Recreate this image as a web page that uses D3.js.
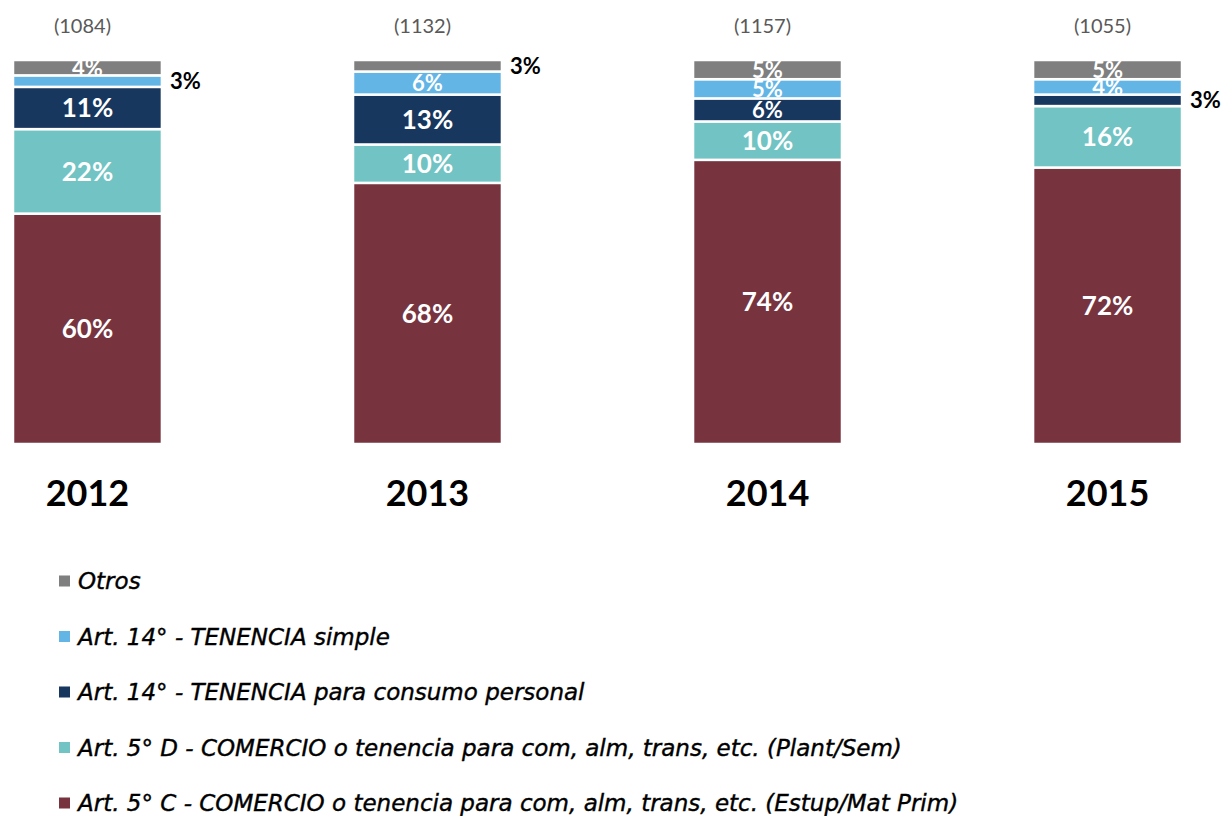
<!DOCTYPE html>
<html>
<head>
<meta charset="utf-8">
<script src="https://cdn.jsdelivr.net/npm/d3@7"></script>
<style>
body { margin: 0; background: #fff; }
</style>
</head>
<body>
<svg class="chart"></svg>
<script>
// Data
var years = ["2012", "2013", "2014", "2015"];
var counts = ["(1084)", "(1132)", "(1157)", "(1055)"];
var seriesNames = [
    "Art. 5° C - COMERCIO o tenencia para com, alm, trans, etc. (Estup/Mat Prim)",
    "Art. 5° D - COMERCIO o tenencia para com, alm, trans, etc. (Plant/Sem)",
    "Art. 14° - TENENCIA para consumo personal",
    "Art. 14° - TENENCIA simple",
    "Otros"
];
var comercioC = [60, 68, 74, 72];
var comercioD = [22, 10, 10, 16];
var tenenciaConsumo = [11, 13, 6, 3];
var tenenciaSimple = [3, 6, 5, 4];
var otros = [4, 3, 5, 5];
var colors = ["#77343f", "#71c4c3", "#17375e", "#63b5e6", "#7f7f7f"];

var seriesValues = [comercioC, comercioD, tenenciaConsumo, tenenciaSimple, otros];
var rows = years.map(function (y, i) {
    var r = { year: y };
    seriesNames.forEach(function (s, j) { r[s] = seriesValues[j][i]; });
    return r;
});

var width = 1227, height = 816;
var svg = d3.select(".chart").attr("width", width).attr("height", height);

var x = d3.scaleBand()
    .domain(years)
    .range([13, 1182])
    .paddingInner(0.562)
    .paddingOuter(0);

var y = d3.scaleLinear()
    .domain([0, 100])
    .range([444, 60]);

var color = d3.scaleOrdinal().domain(seriesNames).range(colors);

var stack = d3.stack().keys(seriesNames);
var layers = stack(rows);

// Bars
var layer = svg.selectAll(".layer")
    .data(layers)
    .enter().append("g")
    .attr("class", "layer")
    .attr("fill", function (d) { return color(d.key); });

layer.selectAll("rect")
    .data(function (d) { return d; })
    .enter().append("rect")
    .attr("x", function (d) { return x(d.data.year); })
    .attr("y", function (d) { return y(d[1]); })
    .attr("width", x.bandwidth())
    .attr("height", function (d) { return y(d[0]) - y(d[1]); })
    .attr("stroke", "#fff")
    .attr("stroke-width", 2.5);

// Segment labels (3% ones go outside, to the right)
layers.forEach(function (l) {
    l.forEach(function (d) {
        var v = d[1] - d[0];
        var cy = (y(d[0]) + y(d[1])) / 2;
        var t = svg.append("text")
            .attr("y", cy)
            .attr("dy", "0.36em")
            .attr("font-family", "Lato, 'Open Sans', sans-serif")
            .attr("font-weight", "bold")
            .text(v + "%");
        if (v <= 3) {
            t.attr("x", x(d.data.year) + x.bandwidth() + 8)
                .attr("font-size", 22)
                .attr("fill", "#000");
        } else {
            t.attr("x", x(d.data.year) + x.bandwidth() / 2)
                .attr("text-anchor", "middle")
                .attr("font-size", v <= 6 ? 22 : 26)
                .attr("fill", "#fff");
        }
    });
});

// Count labels
svg.selectAll(".count")
    .data(years)
    .enter().append("text")
    .attr("class", "count")
    .attr("x", function (d) { return x(d) + x.bandwidth() / 2 - 5; })
    .attr("y", 33)
    .attr("text-anchor", "middle")
    .attr("font-family", "Lato, sans-serif")
    .attr("font-size", 20)
    .attr("fill", "#595959")
    .text(function (d, i) { return counts[i]; });

// Year axis
var xAxis = d3.axisBottom(x).tickSize(0).tickPadding(0);
var axisG = svg.append("g")
    .attr("transform", "translate(0,480)")
    .call(xAxis);
axisG.select(".domain").remove();
axisG.selectAll("text")
    .attr("dy", "0.71em")
    .attr("font-family", "Lato, sans-serif")
    .attr("font-weight", "bold")
    .attr("font-size", 36)
    .attr("fill", "#000");

// Legend
var legendOrder = seriesNames.slice().reverse();
var legend = svg.selectAll(".legend")
    .data(legendOrder)
    .enter().append("g")
    .attr("class", "legend")
    .attr("transform", function (d, i) { return "translate(59," + (581 + i * 55.5) + ")"; });

legend.append("rect")
    .attr("x", 0)
    .attr("y", -5.5)
    .attr("width", 11)
    .attr("height", 11)
    .attr("fill", function (d) { return color(d); });

legend.append("text")
    .attr("x", 19)
    .attr("y", 0)
    .attr("dy", "0.36em")
    .attr("font-family", "'DejaVu Sans', sans-serif")
    .attr("font-style", "italic")
    .attr("font-size", 23)
    .attr("fill", "#000")
    .attr("stroke", "#000")
    .attr("stroke-width", 0.4)
    .text(function (d) { return d; });
</script>
</body>
</html>
